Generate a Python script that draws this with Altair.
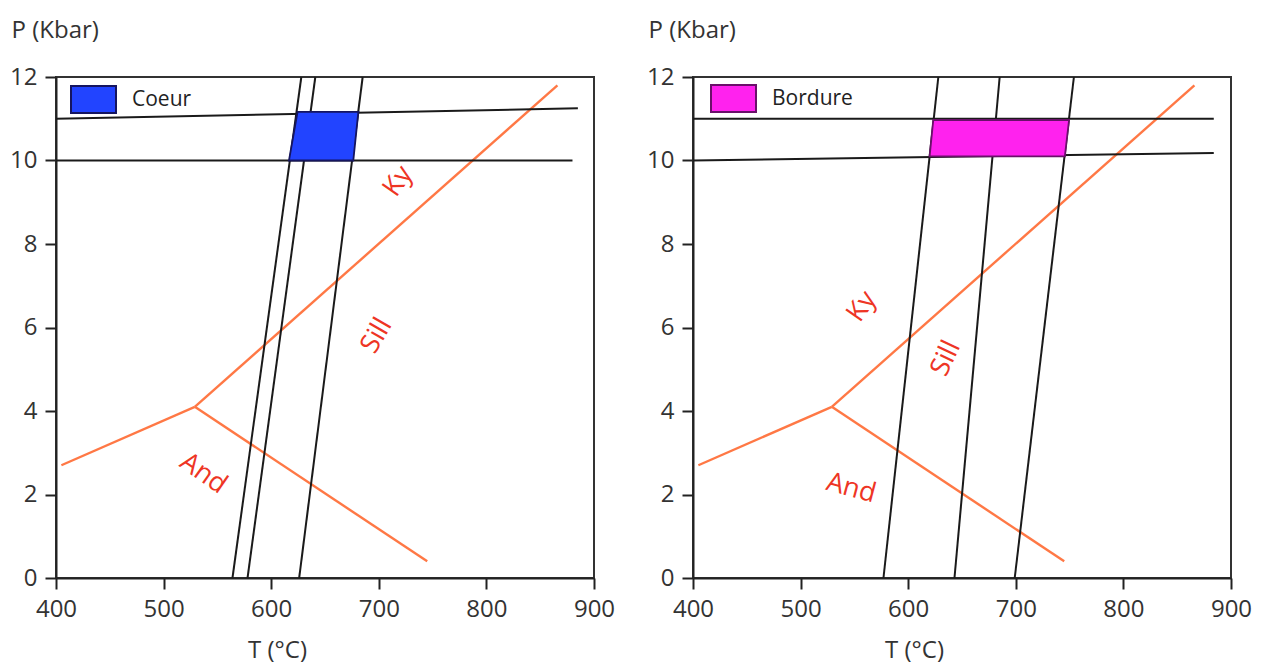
import altair as alt
import pandas as pd

# ---------------- data ----------------
T_TICKS = [400, 500, 600, 700, 800, 900]
P_TICKS = [0, 2, 4, 6, 8, 10, 12]

# Al2SiO5 phase diagram (same in both panels): triple point -> ends
PHASE_T_START = [529, 529, 529]
PHASE_P_START = [4.1, 4.1, 4.1]
PHASE_T_END = [866, 405, 745]
PHASE_P_END = [11.8, 2.7, 0.4]
PHASE_LABELS = ["Ky", "Sill", "And"]

# ---- left panel: Coeur ----
COEUR_LABEL_T = [718, 698, 537]
COEUR_LABEL_P = [9.5, 5.8, 2.5]
COEUR_LABEL_ANGLE = [305, 300, 35]
COEUR_ISO_T_BOTTOM = [564, 578, 626]
COEUR_ISO_T_TOP = [628, 641, 685]
COEUR_H_T1 = [400, 400]
COEUR_H_P1 = [11.0, 10.0]
COEUR_H_T2 = [885, 880]
COEUR_H_P2 = [11.25, 10.0]
COEUR_BOX_P = [10.0, 11.165]
COEUR_BOX_T_LEFT = [616.5, 624.5]
COEUR_BOX_T_RIGHT = [676.3, 681.0]

# ---- right panel: Bordure ----
BORD_LABEL_T = [557, 635, 547]
BORD_LABEL_P = [6.5, 5.26, 2.15]
BORD_LABEL_ANGLE = [305, 295, 15]
BORD_ISO_T_BOTTOM = [577, 643, 699]
BORD_ISO_T_TOP = [628, 685, 754]
BORD_H_T1 = [400, 400]
BORD_H_P1 = [11.0, 10.0]
BORD_H_T2 = [884, 884]
BORD_H_P2 = [11.0, 10.18]
BORD_BOX_P = [10.1, 10.97]
BORD_BOX_T_LEFT = [619.9, 623.3]
BORD_BOX_T_RIGHT = [745.6, 749.5]

FONT = "Open Sans"
XS = alt.Scale(domain=[400, 900], nice=False, zero=False)
YS = alt.Scale(domain=[0, 12], nice=False, zero=False)

XAX = alt.Axis(values=T_TICKS, grid=False, tickSize=11, tickWidth=2, tickColor="#222",
               domainColor="#222", domainWidth=2, labelFontSize=24, labelFont=FONT,
               labelColor="#333", labelPadding=8, labelFlush=False,
               titleFontSize=24, titleFont=FONT, titleFontWeight="normal", titleColor="#333",
               titleX=221, titleY=79, titleAlign="center", titleBaseline="alphabetic")
YAX = alt.Axis(values=P_TICKS, grid=False, tickSize=11, tickWidth=2, tickColor="#222",
               domainColor="#222", domainWidth=2, labelFontSize=24, labelFont=FONT,
               labelColor="#333", labelPadding=8, labelFlush=False,
               titleFontSize=24, titleFont=FONT, titleFontWeight="normal", titleColor="#333",
               titleAngle=0, titleX=-45, titleY=-40, titleAlign="left",
               titleBaseline="alphabetic")


def X(f):
    return alt.X(f"{f}:Q", scale=XS, axis=XAX, title="T (°C)")


def Y(f):
    return alt.Y(f"{f}:Q", scale=YS, axis=YAX, title="P (Kbar)")


def panel(zone, fill, edge, legx, legy, label_t, label_p, label_ang,
          iso_b, iso_t, h_t1, h_p1, h_t2, h_p2, box_p, box_l, box_r):
    phase_df = pd.DataFrame({"T": PHASE_T_START, "P": PHASE_P_START,
                             "T2": PHASE_T_END, "P2": PHASE_P_END})
    iso_df = pd.DataFrame({"T": iso_b, "P": [0] * len(iso_b), "T2": iso_t,
                           "P2": [12] * len(iso_t)})
    h_df = pd.DataFrame({"T": h_t1, "P": h_p1, "T2": h_t2, "P2": h_p2})
    box_df = pd.DataFrame({"P": box_p, "TL": box_l, "TR": box_r, "zone": [zone] * len(box_p)})
    txt_df = pd.DataFrame({"label": PHASE_LABELS, "T": label_t, "P": label_p, "ang": label_ang})

    phase = alt.Chart(phase_df).mark_rule(color="#ff7845", strokeWidth=2.4).encode(
        x=X("T"), y=Y("P"), x2="T2", y2="P2")
    iso = alt.Chart(iso_df).mark_rule(color="#1a1a1a", strokeWidth=2).encode(
        x=X("T"), y=Y("P"), x2="T2", y2="P2")
    hl = alt.Chart(h_df).mark_rule(color="#1a1a1a", strokeWidth=2).encode(
        x=X("T"), y=Y("P"), x2="T2", y2="P2")
    box = alt.Chart(box_df).mark_area(orient="horizontal", stroke=edge, strokeWidth=1.8,
                                      opacity=1).encode(
        y=Y("P"), x=X("TL"), x2="TR",
        fill=alt.Fill("zone:N", scale=alt.Scale(domain=[zone], range=[fill]),
                      legend=alt.Legend(orient="none", legendX=legx, legendY=legy, title=None,
                                        symbolType="M-1,-0.6L1,-0.6L1,0.6L-1,0.6Z",
                                        symbolSize=2025, symbolStrokeColor=edge,
                                        symbolStrokeWidth=2, symbolOpacity=1,
                                        labelFontSize=21, labelFont=FONT, labelColor="#222",
                                        labelOffset=15, padding=0)))
    txt = alt.Chart(txt_df).mark_text(font=FONT, fontSize=27, color="#ee3524").encode(
        x=X("T"), y=Y("P"), text="label:N", angle=alt.Angle("ang:Q", scale=None))
    return alt.layer(phase, hl, iso, box, txt).properties(width=538, height=501)


left = panel("Coeur", "#2244ff", "#151560", 14, -1, COEUR_LABEL_T, COEUR_LABEL_P,
             COEUR_LABEL_ANGLE, COEUR_ISO_T_BOTTOM, COEUR_ISO_T_TOP, COEUR_H_T1, COEUR_H_P1,
             COEUR_H_T2, COEUR_H_P2, COEUR_BOX_P, COEUR_BOX_T_LEFT, COEUR_BOX_T_RIGHT)
right = panel("Bordure", "#ff22ee", "#6a106a", 17, -2, BORD_LABEL_T, BORD_LABEL_P,
              BORD_LABEL_ANGLE, BORD_ISO_T_BOTTOM, BORD_ISO_T_TOP, BORD_H_T1, BORD_H_P1,
              BORD_H_T2, BORD_H_P2, BORD_BOX_P, BORD_BOX_T_LEFT, BORD_BOX_T_RIGHT)

chart = alt.hconcat(left, right, spacing=29).resolve_scale(
    fill="independent").resolve_legend(fill="independent").properties(
    padding={"left": 0, "top": 9, "right": 0, "bottom": 0},
    background="white").configure_view(stroke="#333", strokeWidth=2)

chart.save("out.html", embed_options={"renderer": "svg", "actions": False})
